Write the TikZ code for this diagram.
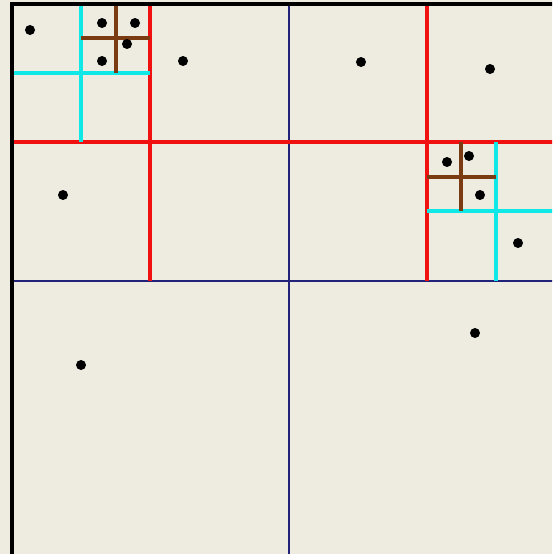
\documentclass[tikz,border=0pt]{standalone}
\usepackage{tikz}
\definecolor{paper}{HTML}{EEEBE0}
\definecolor{qred}{HTML}{F01010}
\definecolor{qcyan}{HTML}{10E8E8}
\definecolor{qbrown}{HTML}{7A3A12}
\definecolor{qblue}{HTML}{22227A}
\tikzset{
  level0/.style={draw=black, line width=3.2pt},
  level1/.style={draw=qblue, line width=1.8pt},
  level2/.style={draw=qred, line width=3.4pt},
  level3/.style={draw=qcyan, line width=3.4pt},
  level4/.style={draw=qbrown, line width=3.2pt},
  pt/.style={fill=black}
}
\begin{document}
\begin{tikzpicture}[x=1pt,y=-1pt]
\useasboundingbox (0,0) rectangle (552,554);
\fill[paper] (0,0) rectangle (552,554);
\clip (0,0) rectangle (552,554);
% first split
\draw[level1] (289,4) -- (289,558);
\draw[level1] (12,281) -- (566,281);
% second split
\draw[level2] (12,142) -- (566,142);
\draw[level2] (150,4) -- (150,281);
\draw[level2] (427,4) -- (427,281);
% third split
\draw[level3] (81,4) -- (81,142);
\draw[level3] (12,73) -- (150,73);
\draw[level3] (496,142) -- (496,281);
\draw[level3] (427,211) -- (566,211);
% fourth split
\draw[level4] (116,4) -- (116,73);
\draw[level4] (81,38) -- (150,38);
\draw[level4] (461,142) -- (461,211);
\draw[level4] (427,177) -- (496,177);
% outer square
\draw[level0] (12,4) rectangle (566,558);
% points
\fill[pt] (30,30) circle (5);
\fill[pt] (102,23) circle (5);
\fill[pt] (135,23) circle (5);
\fill[pt] (127,44) circle (5);
\fill[pt] (102,61) circle (5);
\fill[pt] (183,61) circle (5);
\fill[pt] (361,62) circle (5);
\fill[pt] (490,69) circle (5);
\fill[pt] (63,195) circle (5);
\fill[pt] (447,162) circle (5);
\fill[pt] (469,156) circle (5);
\fill[pt] (480,195) circle (5);
\fill[pt] (518,243) circle (5);
\fill[pt] (475,333) circle (5);
\fill[pt] (81,365) circle (5);
\end{tikzpicture}
\end{document}
